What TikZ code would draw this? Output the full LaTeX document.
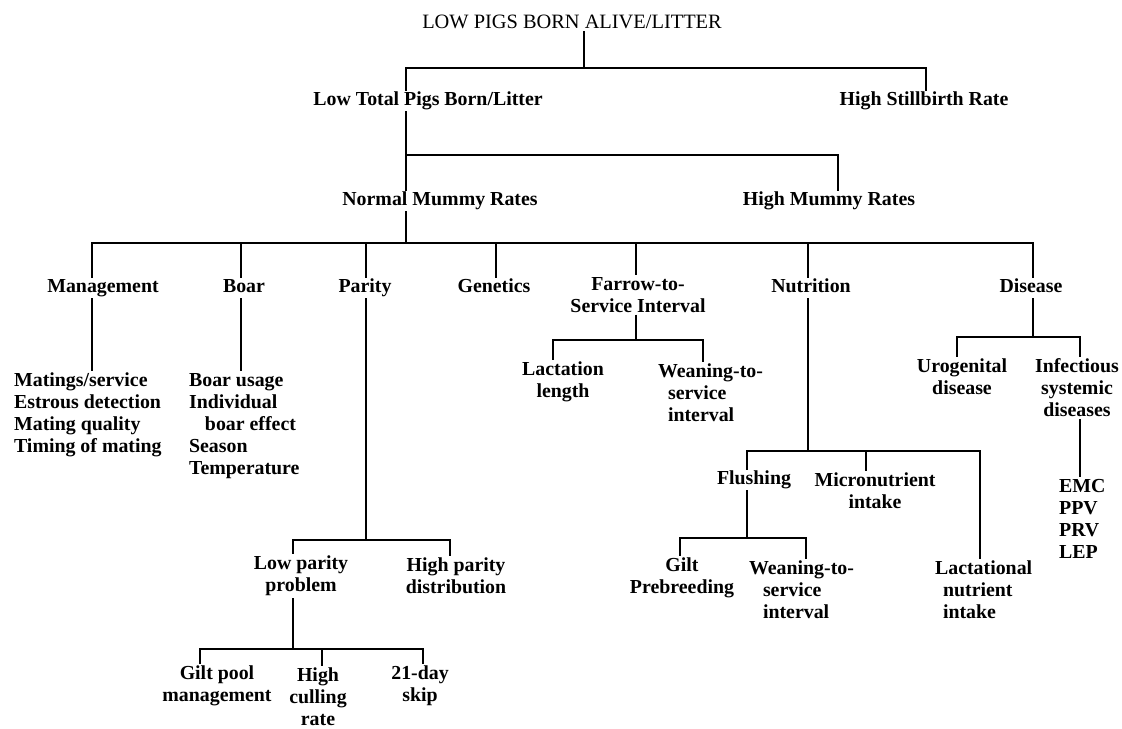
\documentclass[tikz,border=0pt]{standalone}
\usepackage{fontspec}
\setmainfont{Liberation Serif}
\tikzset{
  lbl/.style={font=\fontsize{11.3}{12.5}\selectfont\bfseries, align=center, inner sep=1pt},
  one/.style={lbl, text height=1.6ex, text depth=0.45ex},
  lst/.style={lbl, align=left, anchor=west},
  bus/.style={line width=1.1pt},
}
\begin{document}
\begin{tikzpicture}[x=0.2mm, y=-0.2mm]
    \useasboundingbox (0,0) rectangle (1122,729);

    % top levels
    \node[inner sep=1pt, font=\fontsize{11.6}{13}\selectfont] (top) at (572,22) {LOW PIGS BORN ALIVE/LITTER};
    \node[one] (lowtot) at (428,101) {Low Total Pigs Born/Litter};
    \node[one] (still) at (924,101) {High Stillbirth Rate};
    \node[one] (normal) at (440,201) {Normal Mummy Rates};
    \node[one] (highm) at (829,201) {High Mummy Rates};

    % factors
    \node[one] (mgmt) at (103,288) {Management};
    \node[one] (boar) at (244,288) {Boar};
    \node[one] (parity) at (365,288) {Parity};
    \node[one] (genet) at (494,288) {Genetics};
    \node[lbl] (farrow) at (638,295) {Farrow-to-\\Service Interval};
    \node[one] (nutri) at (811,288) {Nutrition};
    \node[one] (disease) at (1031,288) {Disease};

    \node[lst] (mgmtlist) at (12,415) {Matings/service\\Estrous detection\\Mating quality\\Timing of mating};
    \node[lst] (boarlist) at (187,426) {Boar usage\\Individual\\\hspace*{0.8em}boar effect\\Season\\Temperature};

    \node[lbl] (lowpar) at (301,576) {Low parity\\problem};
    \node[lbl] (highpar) at (456,576) {High parity\\distribution};
    \node[lbl] (giltpool) at (217,686) {Gilt pool\\management};
    \node[lbl] (highcull) at (318,697) {High\\culling\\rate};
    \node[lbl] (skip) at (420,686) {21-day\\skip};

    \node[lbl] (lactlen) at (563,382) {Lactation\\length};
    \node[lst] (weanfs) at (656,393) {Weaning-to-\\\hspace*{0.5em}service\\\hspace*{0.5em}interval};

    \node[one] (flush) at (754,480) {Flushing};
    \node[lbl] (micro) at (875,491) {Micronutrient\\intake};
    \node[lst] (lactnut) at (933,590) {Lactational\\\hspace*{0.4em}nutrient\\\hspace*{0.4em}intake};
    \node[lbl] (gilt) at (682,578) {Gilt\\Prebreeding};
    \node[lst] (weanfl) at (747,590) {Weaning-to-\\\hspace*{0.7em}service\\\hspace*{0.7em}interval};

    \node[lbl] (uro) at (962,377) {Urogenital\\disease};
    \node[lbl] (infect) at (1077,388) {Infectious\\systemic\\diseases};
    \node[lst] (virlist) at (1057,519) {EMC\\PPV\\PRV\\LEP};

    % junctions
    \coordinate (j0) at (584,68);
    \coordinate (j0a) at (406,68);
    \coordinate (j0b) at (926,68);
    \coordinate (j1) at (406,155);
    \coordinate (j1b) at (838,155);
    \coordinate (j2) at (406,243);
    \coordinate (j2a) at (92,243);
    \coordinate (j2b) at (241,243);
    \coordinate (j2c) at (366,243);
    \coordinate (j2d) at (496,243);
    \coordinate (j2e) at (636,243);
    \coordinate (j2f) at (808,243);
    \coordinate (j2g) at (1033,243);
    \coordinate (j3) at (366,540);
    \coordinate (j3a) at (293,540);
    \coordinate (j3b) at (450,540);
    \coordinate (j4) at (293,649);
    \coordinate (j4a) at (200,649);
    \coordinate (j4b) at (322,649);
    \coordinate (j4c) at (423,649);
    \coordinate (j5) at (636,340);
    \coordinate (j5a) at (553,340);
    \coordinate (j5b) at (703,340);
    \coordinate (j6) at (808,451);
    \coordinate (j6a) at (747,451);
    \coordinate (j6b) at (866,451);
    \coordinate (j6c) at (980,451);
    \coordinate (j7) at (747,538);
    \coordinate (j7a) at (680,538);
    \coordinate (j7b) at (806,538);
    \coordinate (j8) at (1033,337);
    \coordinate (j8a) at (957,337);
    \coordinate (j8b) at (1080,337);

    \draw[bus] (j0 |- top.south) -- (j0);
    \draw[bus] (j0a |- lowtot.north) -- (j0a) -- (j0b) -- (j0b |- still.north);

    \draw[bus] (j1 |- lowtot.south) -- (j1) -- (j1b) -- (j1b |- highm.north);
    \draw[bus] (j1) -- (j1 |- normal.north);

    \draw[bus] (j2 |- normal.south) -- (j2);
    \draw[bus] (j2a |- mgmt.north) -- (j2a) -- (j2g) -- (j2g |- disease.north);
    \draw[bus] (j2b) -- (j2b |- boar.north);
    \draw[bus] (j2c) -- (j2c |- parity.north);
    \draw[bus] (j2d) -- (j2d |- genet.north);
    \draw[bus] (j2e) -- (j2e |- farrow.north);
    \draw[bus] (j2f) -- (j2f |- nutri.north);

    \draw[bus] (j2a |- mgmt.south) -- (j2a |- mgmtlist.north);
    \draw[bus] (j2b |- boar.south) -- (j2b |- boarlist.north);

    \draw[bus] (j3 |- parity.south) -- (j3);
    \draw[bus] (j3a |- lowpar.north) -- (j3a) -- (j3b) -- (j3b |- highpar.north);
    \draw[bus] (j4 |- lowpar.south) -- (j4);
    \draw[bus] (j4a |- giltpool.north) -- (j4a) -- (j4c) -- (j4c |- skip.north);
    \draw[bus] (j4b) -- (j4b |- highcull.north);

    \draw[bus] (j5 |- farrow.south) -- (j5);
    \draw[bus] (j5a |- lactlen.north) -- (j5a) -- (j5b) -- (j5b |- weanfs.north);

    \draw[bus] (j6 |- nutri.south) -- (j6);
    \draw[bus] (j6a |- flush.north) -- (j6a) -- (j6c) -- (j6c |- lactnut.north);
    \draw[bus] (j6b) -- (j6b |- micro.north);
    \draw[bus] (j7 |- flush.south) -- (j7);
    \draw[bus] (j7a |- gilt.north) -- (j7a) -- (j7b) -- (j7b |- weanfl.north);

    \draw[bus] (j8 |- disease.south) -- (j8);
    \draw[bus] (j8a |- uro.north) -- (j8a) -- (j8b) -- (j8b |- infect.north);
    \draw[bus] (j8b |- infect.south) -- (j8b |- virlist.north);
\end{tikzpicture}
\end{document}
